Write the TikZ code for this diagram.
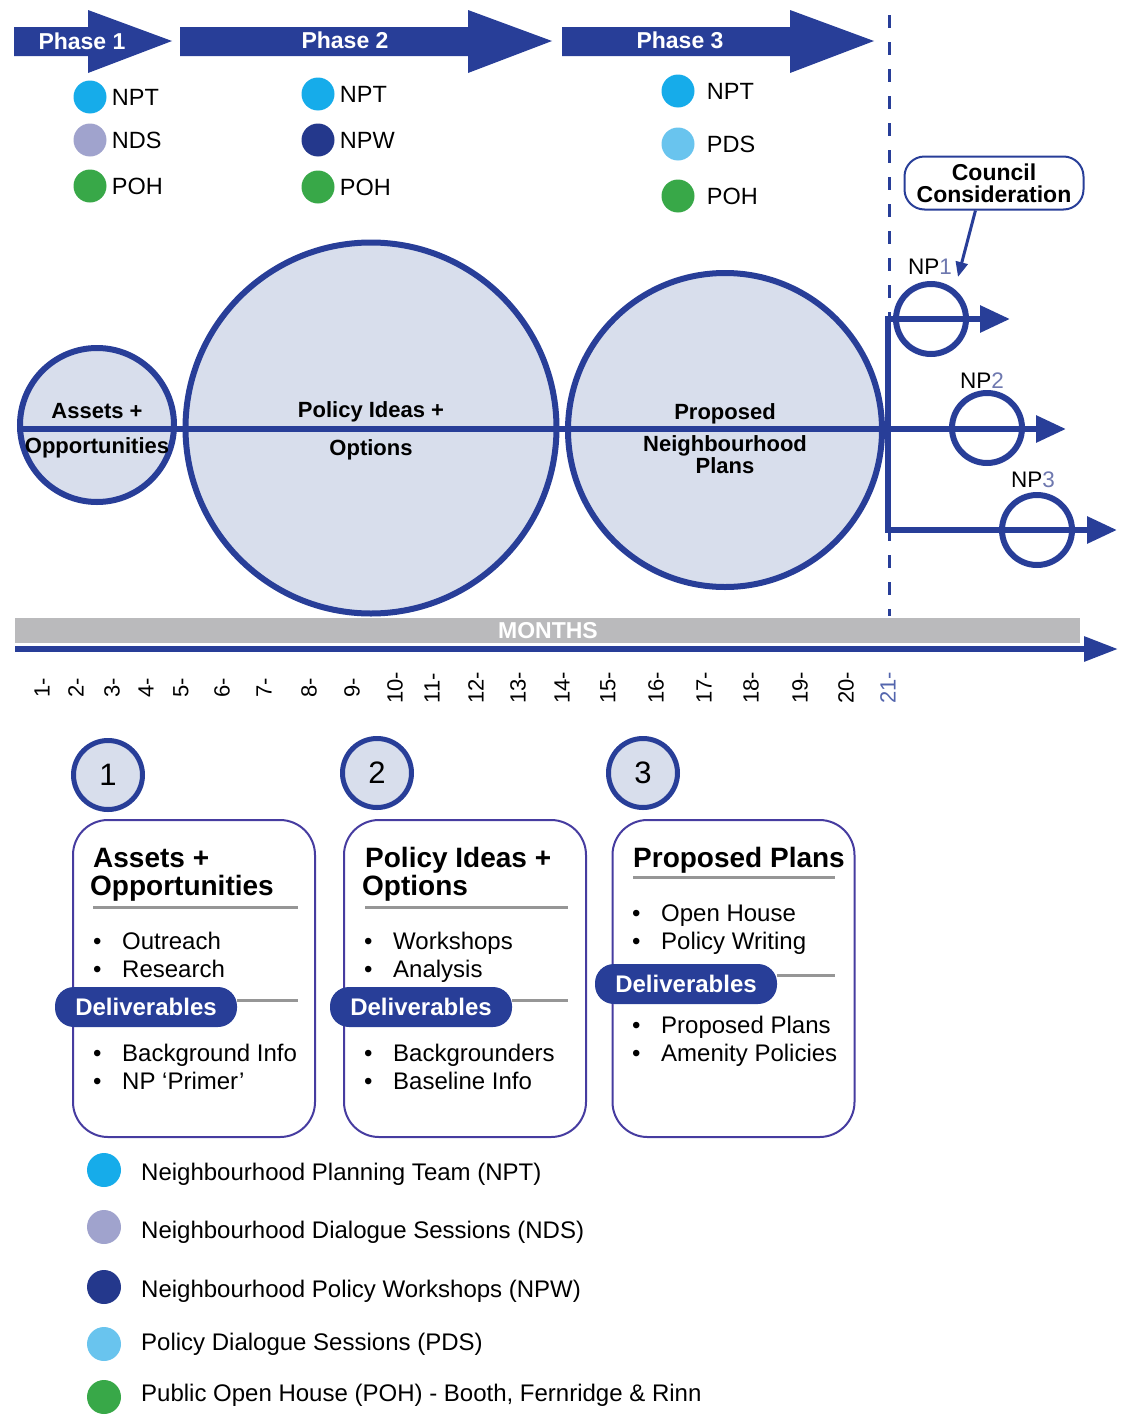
\documentclass[tikz,border=0pt]{standalone}
\usepackage{fontspec}
\setmainfont{Liberation Sans}
\usetikzlibrary{positioning,calc,arrows.meta}
\definecolor{planblue}{RGB}{40,62,152}
\definecolor{bubblefill}{RGB}{216,222,236}
\definecolor{nptcol}{RGB}{22,172,234}
\definecolor{ndscol}{RGB}{160,163,205}
\definecolor{npwcol}{RGB}{36,56,140}
\definecolor{pdscol}{RGB}{105,196,238}
\definecolor{pohcol}{RGB}{56,168,72}
\definecolor{monthgray}{RGB}{186,186,188}
\definecolor{rulegray}{RGB}{150,150,150}
\definecolor{boxline}{RGB}{70,60,160}
\definecolor{digitblue}{RGB}{110,120,175}

\newcommand{\bulletline}[1]{\makebox[29pt][l]{\textbullet}#1}

\tikzset{
  phasetxt/.style={text=white,font=\fontsize{23}{25}\selectfont\bfseries},
  evdot/.style={circle,fill=#1,minimum size=33pt,inner sep=0pt},
  dottxt/.style={anchor=west,inner sep=0pt,font=\fontsize{23.5}{25}\selectfont},
  bigbubble/.style={circle,draw=planblue,line width=6pt,fill=bubblefill,inner sep=0pt},
  bubbletxt/.style={anchor=base,inner sep=0pt,font=\fontsize{22}{24}\selectfont\bfseries},
  mainline/.style={planblue,line width=6pt},
  bigtip/.style={-{Triangle[length=30pt,width=26pt]}},
  npring/.style={circle,draw=planblue,line width=6pt,minimum size=70pt,inner sep=0pt},
  nptxt/.style={inner sep=0pt,font=\fontsize{22.5}{24}\selectfont},
  monthtxt/.style={rotate=90,inner sep=0pt,font=\fontsize{22}{24}\selectfont},
  numring/.style={circle,draw=planblue,line width=5pt,fill=bubblefill,minimum size=69pt,inner sep=0pt,font=\fontsize{31}{33}\selectfont},
  stagebox/.style={draw=boxline,line width=2pt,rounded corners=35pt,minimum width=242pt,minimum height=317pt},
  boxtitle/.style={anchor=base west,inner sep=0pt,font=\fontsize{28}{30}\selectfont\bfseries},
  itemtxt/.style={anchor=base west,inner sep=0pt,font=\fontsize{24}{26}\selectfont},
  titlerule/.style={rulegray,line width=3pt},
  pill/.style={fill=planblue,text=white,rounded corners=19pt,minimum width=182pt,minimum height=40pt,inner sep=0pt,font=\fontsize{24}{26}\selectfont\bfseries},
  legtxt/.style={anchor=base west,inner sep=0pt,font=\fontsize{24}{26}\selectfont}
}

\begin{document}
\begin{tikzpicture}[x=1pt,y=-1pt]
	\useasboundingbox (0,0) rectangle (1126,1416);
	
	% phase arrows
	\fill[planblue] (14,27) -- (88,27) -- (88,10) -- (172,41) -- (88,73) -- (88,56) -- (14,56) -- cycle;
	\fill[planblue] (180,27) -- (468,27) -- (468,10) -- (552,41) -- (468,73) -- (468,56) -- (180,56) -- cycle;
	\fill[planblue] (562,27) -- (790,27) -- (790,10) -- (874,41) -- (790,73) -- (790,56) -- (562,56) -- cycle;
	\node[phasetxt] (ph1) at (82,41) {Phase 1};
	\node[phasetxt] (ph2) at (345,40) {Phase 2};
	\node[phasetxt] (ph3) at (680,40) {Phase 3};
	
	% who takes part in each phase
	\node[evdot=nptcol] (a1) at (90,97) {};
	\node[evdot=ndscol] (a2) at (90,140) {};
	\node[evdot=pohcol] (a3) at (90,186) {};
	\node[dottxt,right=5pt of a1] (a1t) {NPT};
	\node[dottxt,right=5pt of a2] (a2t) {NDS};
	\node[dottxt,right=5pt of a3] (a3t) {POH};
	
	\node[evdot=nptcol] (b1) at (318,94) {};
	\node[evdot=npwcol] (b2) at (318,140) {};
	\node[evdot=pohcol] (b3) at (318,187) {};
	\node[dottxt,right=5pt of b1] (b1t) {NPT};
	\node[dottxt,right=5pt of b2] (b2t) {NPW};
	\node[dottxt,right=5pt of b3] (b3t) {POH};
	
	\node[evdot=nptcol] (c1) at (678,91) {};
	\node[evdot=pdscol] (c2) at (678,144) {};
	\node[evdot=pohcol] (c3) at (678,196) {};
	\node[dottxt,right=12pt of c1] (c1t) {NPT};
	\node[dottxt,right=12pt of c2] (c2t) {PDS};
	\node[dottxt,right=12pt of c3] (c3t) {POH};
	
	% cut-off line
	\draw[planblue,line width=3pt,dash pattern=on 13pt off 14pt] (889,15) -- (889,616);
	
	% the three stages
	\node[bigbubble,minimum size=154pt] (assets) at (97,425) {};
	\node[bigbubble,minimum size=371pt] (ideas) at (371,428) {};
	\node[bigbubble,minimum size=314pt] (plans) at (725,430) {};
	
	\coordinate (hub) at (888,429);
	\coordinate (forktop) at (888,319);
	\coordinate (forkbot) at (888,530);
	\coordinate (np1end) at (1010,319);
	\coordinate (np2end) at (1066,429);
	\coordinate (np3end) at (1117,530);
	
	\draw[mainline] (assets.west |- hub) -- (hub);
	\draw[mainline,line join=miter,{Triangle[length=30pt,width=26pt]}-{Triangle[length=30pt,width=26pt]}] (np1end) -- (forktop) -- (forkbot) -- (np3end);
	\draw[mainline,bigtip] (hub) -- (np2end);
	
	\node[bubbletxt] (assets1) at (97,418) {Assets +};
	\node[bubbletxt] (assets2) at (97,453) {Opportunities};
	\node[bubbletxt] (ideas1) at (371,417) {Policy Ideas +};
	\node[bubbletxt] (ideas2) at (371,455) {Options};
	\node[bubbletxt] (plans1) at (725,419) {Proposed};
	\node[bubbletxt] (plans2) at (725,451) {Neighbourhood};
	\node[bubbletxt] (plans3) at (725,473) {Plans};
	
	% neighbourhood plans
	\node[npring] (np1) at (931,319) {};
	\node[npring] (np2) at (987,428) {};
	\node[npring] (np3) at (1037,530) {};
	\node[nptxt] (np1t) at (930,267) {NP\textcolor{digitblue}{1}};
	\node[nptxt] (np2t) at (982,381) {NP\textcolor{digitblue}{2}};
	\node[nptxt] (np3t) at (1033,480) {NP\textcolor{digitblue}{3}};
	
	\node[draw=planblue,line width=2pt,rounded corners=20pt,minimum width=179pt,minimum height=53pt,align=center,font=\fontsize{23}{22}\selectfont\bfseries] (council) at (994,183) {Council\\Consideration};
	\coordinate (councilpt) at (958,277);
	\draw[planblue,line width=3pt,-{Triangle[length=15pt,width=12pt]}] (council.236) -- (councilpt);
	
	% months
	\fill[monthgray] (15,618) rectangle (1080,643);
	\node[text=white,font=\fontsize{23}{24}\selectfont\bfseries] (months) at (548,631) {MONTHS};
	\coordinate (mstart) at (15,649);
	\coordinate (mend) at (1118,649);
	\draw[mainline,-{Triangle[length=34pt,width=24pt]}] (mstart) -- (mend);
	\foreach \m/\x in {1/42,2/76,3/112,4/146,5/181,6/222,7/264,8/309,9/352,10/395,11/432,12/476,13/518,14/562,15/608,16/656,17/704,18/751,19/800,20/846}
		\node[monthtxt] (m\m) at (\x,688) {\m-};
	\node[monthtxt,text=planblue!80] (m21) at (888,688) {21-};
	
	% stage cards
	\node[numring] (n1) at (108,775) {1};
	\node[numring] (n2) at (377,773) {2};
	\node[numring] (n3) at (643,773) {3};
	
	\node[stagebox] (box1) at (194,978.5) {};
	\node[stagebox] (box2) at (465,978.5) {};
	\node[stagebox] (box3) at (733.5,978.5) {};
	
	\node[boxtitle] (box1t1) at (93,867) {Assets +};
	\node[boxtitle] (box1t2) at (90,895) {Opportunities};
	\draw[titlerule] (93,907) -- (298,907);
	\foreach \t/\y [count=\k] in {Outreach/949,Research/977,Background Info/1061,NP ‘Primer’/1089}
		\node[itemtxt] (box1i\k) at (93,\y) {\bulletline{\t}};
	\node[pill] (del1) at (146,1007) {Deliverables};
	\draw[titlerule] (del1.east |- 0,1000) -- (298,1000);
	
	\node[boxtitle] (box2t1) at (365,867) {Policy Ideas +};
	\node[boxtitle] (box2t2) at (362,895) {Options};
	\draw[titlerule] (365,907) -- (568,907);
	\foreach \t/\y [count=\k] in {Workshops/949,Analysis/977,Backgrounders/1061,Baseline Info/1089}
		\node[itemtxt] (box2i\k) at (364,\y) {\bulletline{\t}};
	\node[pill] (del2) at (421,1007) {Deliverables};
	\draw[titlerule] (del2.east |- 0,1000) -- (568,1000);
	
	\node[boxtitle] (box3t1) at (633,867) {Proposed Plans};
	\draw[titlerule] (633,877) -- (835,877);
	\foreach \t/\y [count=\k] in {Open House/921,Policy Writing/949,Proposed Plans/1033,Amenity Policies/1061}
		\node[itemtxt] (box3i\k) at (632,\y) {\bulletline{\t}};
	\node[pill] (del3) at (686,984) {Deliverables};
	\draw[titlerule] (del3.east |- 0,975) -- (835,975);
	
	% legend
	\node[evdot=nptcol,minimum size=34pt] (k1) at (104,1170) {};
	\node[evdot=ndscol,minimum size=34pt] (k2) at (104,1227) {};
	\node[evdot=npwcol,minimum size=34pt] (k3) at (104,1287) {};
	\node[evdot=pdscol,minimum size=34pt] (k4) at (104,1344) {};
	\node[evdot=pohcol,minimum size=34pt] (k5) at (104,1397) {};
	\node[legtxt] (k1t) at (141,1180) {Neighbourhood Planning Team (NPT)};
	\node[legtxt] (k2t) at (141,1238) {Neighbourhood Dialogue Sessions (NDS)};
	\node[legtxt] (k3t) at (141,1297) {Neighbourhood Policy Workshops (NPW)};
	\node[legtxt] (k4t) at (141,1350) {Policy Dialogue Sessions (PDS)};
	\node[legtxt] (k5t) at (141,1401) {Public Open House (POH) - Booth, Fernridge \& Rinn};
	
\end{tikzpicture}
\end{document}
